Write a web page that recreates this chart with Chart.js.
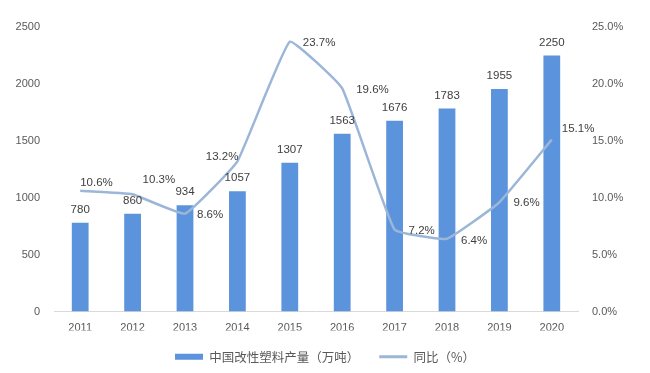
<!DOCTYPE html>
<html>
<head>
<meta charset="utf-8">
<script src="https://cdn.jsdelivr.net/npm/chart.js@4"></script>
<style>
html,body{margin:0;padding:0;background:#fff;}
#wrap{width:650px;height:373px;position:relative;}
</style>
</head>
<body>
<div id="wrap"><canvas id="c" width="650" height="373"></canvas></div>
<script>
const categories = ['2011','2012','2013','2014','2015','2016','2017','2018','2019','2020'];
const production = [780, 860, 934, 1057, 1307, 1563, 1676, 1783, 1955, 2250];
const growth = [10.6, 10.3, 8.6, 13.2, 23.7, 19.6, 7.2, 6.4, 9.6, 15.1];
const leftTicks = [0, 500, 1000, 1500, 2000, 2500];
const rightTicks = [0, 5, 10, 15, 20, 25];
const seriesNames = ['中国改性塑料产量（万吨）', '同比（%）'];

// label placement for growth labels: [dx, dy, align]
const growthLabelPos = [
  [0, -8, 'left'], [10, -14, 'left'], [12, 1, 'left'], [1, -4, 'right'], [13, 1, 'left'],
  [14, 1, 'left'], [14, 1, 'left'], [14, 2, 'left'], [14, 1, 'left'], [10, -11, 'left']
];

const numFont = "'Liberation Sans', Arial, 'Noto Sans CJK SC', sans-serif";

const labelPlugin = {
  id: 'valueLabels',
  afterDatasetsDraw(chart) {
    const ctx = chart.ctx;
    ctx.save();
    ctx.font = '11.5px ' + numFont;
    ctx.fillStyle = '#404040';
    ctx.textBaseline = 'middle';
    const barMeta = chart.getDatasetMeta(0);
    barMeta.data.forEach((el, i) => {
      ctx.textAlign = 'center';
      ctx.fillText(String(production[i]), el.x, el.y - 13);
    });
    const lineMeta = chart.getDatasetMeta(1);
    lineMeta.data.forEach((el, i) => {
      const p = growthLabelPos[i];
      ctx.textAlign = p[2];
      ctx.fillText(growth[i].toFixed(1) + '%', el.x + p[0], el.y + p[1]);
    });
    ctx.restore();
  }
};

new Chart(document.getElementById('c'), {
  data: {
    labels: categories,
    datasets: [
      {
        type: 'bar',
        label: seriesNames[0],
        data: production,
        backgroundColor: '#5B93DC',
        borderWidth: 0,
        yAxisID: 'y',
        categoryPercentage: 1,
        barPercentage: 0.32,
        order: 2
      },
      {
        type: 'line',
        label: seriesNames[1],
        data: growth,
        borderColor: '#9CB6D8',
        backgroundColor: '#9CB6D8',
        borderWidth: 2.5,
        pointRadius: 0,
        tension: 0.1,
        yAxisID: 'y1',
        order: 1
      }
    ]
  },
  options: {
    responsive: false,
    animation: false,
    devicePixelRatio: 1,
    layout: { padding: { top: 27, left: 0, right: 0, bottom: 0 } },
    plugins: {
      tooltip: { enabled: false },
      legend: {
        position: 'bottom',
        labels: {
          usePointStyle: true,
          pointStyleWidth: 28,
          boxHeight: 6,
          padding: 20,
          color: '#595959',
          font: { size: 12.5, family: "'Noto Sans CJK SC', sans-serif" },
          generateLabels(chart) {
            const items = Chart.defaults.plugins.legend.labels.generateLabels(chart);
            items.sort((a, b) => a.datasetIndex - b.datasetIndex);
            items[0].pointStyle = 'rect';
            items[0].lineWidth = 0;
            items[1].pointStyle = 'line';
            items[1].lineWidth = 3;
            items[1].strokeStyle = '#9CB6D8';
            return items;
          }
        }
      }
    },
    scales: {
      x: {
        grid: { display: false, drawTicks: false },
        border: { display: true, color: '#D9D9D9', width: 1 },
        ticks: { color: '#595959', font: { size: 11, family: numFont }, padding: 10 },
        afterFit(s) { s.height = 19; }
      },
      y: {
        position: 'left',
        min: 0, max: 2500,
        afterBuildTicks(s) { s.ticks = leftTicks.map(v => ({ value: v })); },
        grid: { display: false, drawTicks: false },
        border: { display: false },
        ticks: { color: '#595959', font: { size: 11, family: numFont }, padding: 14, callback: v => String(v) },
        afterFit(s) { s.width = 54; }
      },
      y1: {
        position: 'right',
        min: 0, max: 25,
        afterBuildTicks(s) { s.ticks = rightTicks.map(v => ({ value: v })); },
        grid: { display: false, drawTicks: false },
        border: { display: false },
        ticks: {
          color: '#595959', font: { size: 11, family: numFont }, padding: 14,
          callback: v => Number(v).toFixed(1) + '%'
        },
        afterFit(s) { s.width = 72; }
      }
    }
  },
  plugins: [labelPlugin]
});
</script>
</body>
</html>
